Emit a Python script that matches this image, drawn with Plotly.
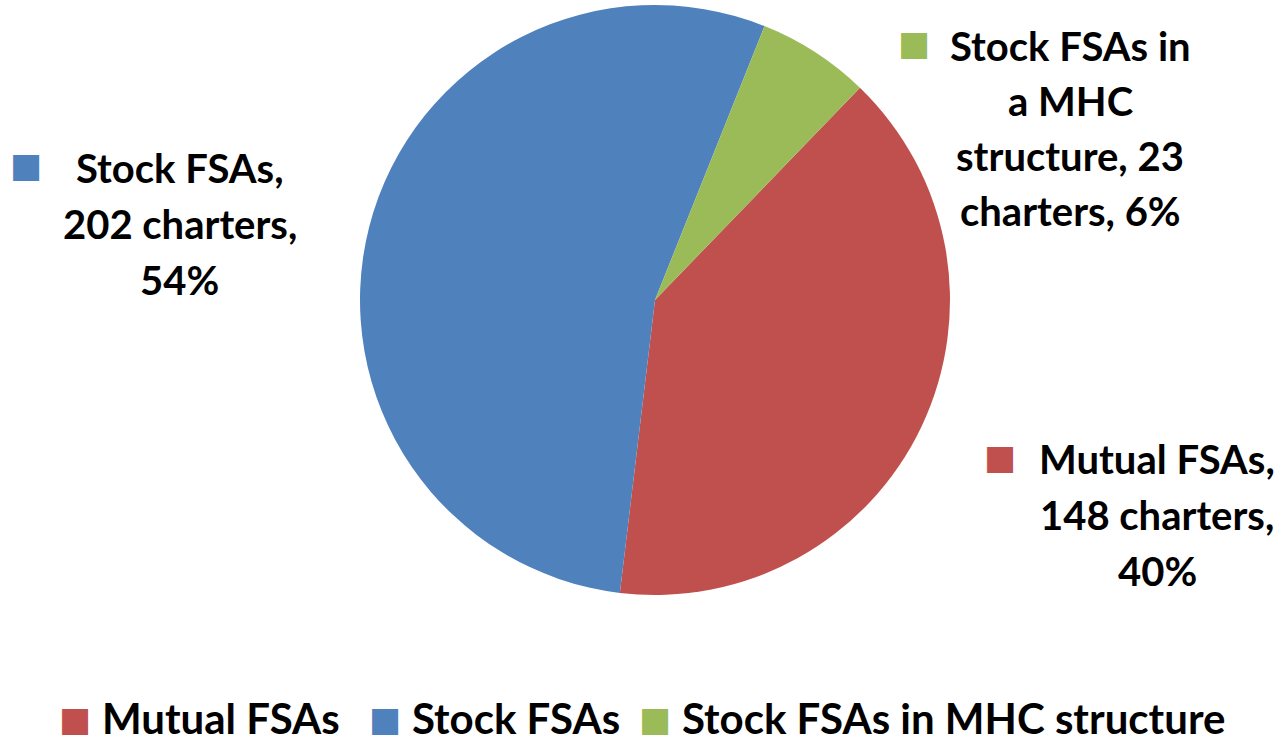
import plotly.graph_objects as go

categories = ["Mutual FSAs", "Stock FSAs", "Stock FSAs in MHC structure"]
charters = [148, 202, 23]
colors = ["#C0504D", "#4F81BD", "#9BBB59"]

W, H = 1284, 742

fig = go.Figure(go.Pie(
    labels=categories,
    values=charters,
    sort=False,
    direction="clockwise",
    rotation=44,
    marker=dict(colors=colors, line=dict(width=0)),
    textinfo="none",
    hoverinfo="label+value+percent",
    showlegend=False,
    domain=dict(x=[(655 - 295) / W, (655 + 295) / W], y=[(742 - 596) / H, (742 - 4) / H]),
))

FONT = dict(family="Lato, 'Open Sans', sans-serif", size=40, color="black", weight="bold")

ann = []

def px(x, y):
    return x / W, 1 - y / H

def add_text(text, x, y, anchor="center", font=FONT):
    xx, yy = px(x, y)
    ann.append(dict(text=text, x=xx, y=yy, xref="paper", yref="paper", showarrow=False,
                    xanchor=anchor, yanchor="middle", font=font))

def add_square(color, x, y, size=34):
    xx, yy = px(x, y)
    ann.append(dict(text="■", x=xx, y=yy, xref="paper", yref="paper", showarrow=False,
                    xanchor="center", yanchor="middle", font=dict(family="DejaVu Sans", size=size, color=color)))

total = sum(charters)
pct = [round(v / total * 100) for v in charters]

# Data labels
add_square(colors[1], 26, 165)
for i, line in enumerate(["Stock FSAs,", f"{charters[1]} charters,", f"{pct[1]}%"]):
    add_text(line, 180, 168 + i * 56)

add_square(colors[2], 914, 43)
for i, line in enumerate(["Stock FSAs in", "a MHC", f"structure, {charters[2]}", f"charters, {pct[2]}%"]):
    add_text(line, 1070, 46 + i * 55)

add_square(colors[0], 1000, 457)
for i, line in enumerate(["Mutual FSAs,", f"{charters[0]} charters,", f"{pct[0]}%"]):
    add_text(line, 1157, 459 + i * 56)

# Legend
LFONT = dict(FONT, size=42)
leg_sq = [75, 385, 655]
leg_tx = [100, 410, 680]
for c, name, sx, tx in zip(colors, categories, leg_sq, leg_tx):
    add_square(c, sx, 719)
    add_text(name, tx, 718, anchor="left", font=LFONT)

fig.update_layout(
    width=W, height=H,
    margin=dict(l=0, r=0, t=0, b=0),
    paper_bgcolor="white",
    plot_bgcolor="white",
    annotations=ann,
)

fig.write_html("out.html", config={"displayModeBar": False},
               post_script="document.body.style.margin='0px';document.body.style.overflow='hidden';")
